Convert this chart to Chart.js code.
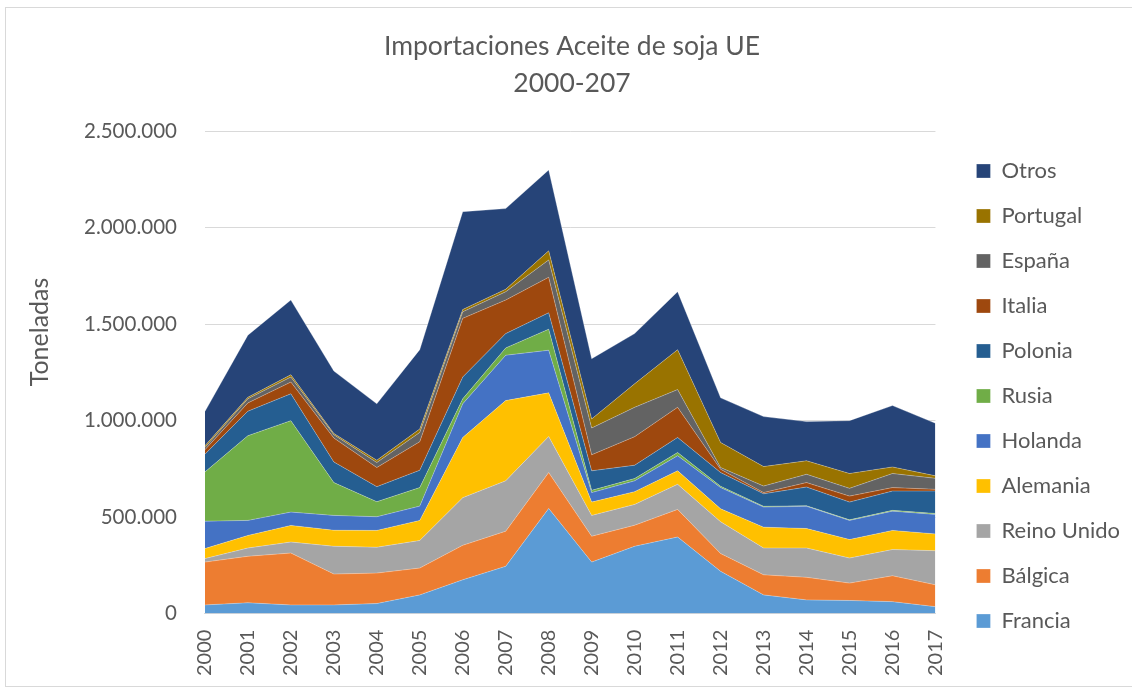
<!DOCTYPE html>
<html>
<head>
<meta charset="utf-8">
<script src="https://cdn.jsdelivr.net/npm/chart.js@4/dist/chart.umd.min.js"></script>
<style>
  html, body { margin: 0; padding: 0; background: #fff; }
  #wrap { position: relative; width: 1132px; height: 689px; }
  #frame { position: absolute; left: 5px; top: 7px; width: 1140px; height: 678px; border: 1px solid #d9d9d9; pointer-events: none; }
</style>
</head>
<body>
<div id="wrap">
  <canvas id="area_chart" width="1132" height="689"></canvas>
  <div id="frame"></div>
</div>
<script>
// years on the x axis
var years = ["2000", "2001", "2002", "2003", "2004", "2005", "2006", "2007", "2008",
             "2009", "2010", "2011", "2012", "2013", "2014", "2015", "2016", "2017"];

// imports per origin, tonnes
var francia    = [45000, 56000, 45000, 45000, 52000, 97000, 175000, 245000, 545000, 267000, 349000, 397000, 219000, 97000, 71000, 68000, 62000, 36000];
var belgica    = [222000, 241000, 269000, 160000, 158000, 139000, 179000, 182000, 186000, 134000, 109000, 143000, 92000, 104000, 117000, 90000, 134000, 113000];
var reinoUnido = [18000, 43000, 57000, 144000, 134000, 143000, 247000, 261000, 187000, 108000, 108000, 130000, 165000, 139000, 152000, 130000, 136000, 177000];
var alemania   = [52000, 65000, 86000, 83000, 87000, 104000, 312000, 416000, 226000, 69000, 66000, 70000, 67000, 108000, 101000, 96000, 99000, 87000];
var holanda    = [142000, 78000, 69000, 77000, 71000, 74000, 174000, 235000, 221000, 49000, 56000, 78000, 110000, 104000, 115000, 99000, 100000, 101000];
var rusia      = [255000, 439000, 474000, 170000, 78000, 96000, 26000, 38000, 109000, 12000, 12000, 17000, 7000, 4000, 3000, 3000, 4000, 5000];
var polonia    = [92000, 127000, 139000, 107000, 78000, 90000, 113000, 74000, 85000, 101000, 69000, 78000, 71000, 65000, 97000, 92000, 100000, 116000];
var italia     = [23000, 43000, 61000, 124000, 99000, 148000, 304000, 174000, 184000, 83000, 148000, 156000, 17000, 6000, 23000, 31000, 18000, 9000];
var espana     = [12000, 21000, 26000, 17000, 26000, 48000, 34000, 43000, 90000, 139000, 152000, 92000, 9000, 34000, 43000, 40000, 73000, 57000];
var portugal   = [9000, 8000, 12000, 7000, 12000, 18000, 12000, 13000, 47000, 47000, 122000, 207000, 130000, 101000, 70000, 77000, 34000, 13000];
var otros      = [177000, 322000, 387000, 323000, 292000, 411000, 507000, 418000, 419000, 312000, 260000, 300000, 231000, 259000, 203000, 274000, 318000, 272000];

var seriesNames  = ["Francia", "Bálgica", "Reino Unido", "Alemania", "Holanda", "Rusia", "Polonia", "Italia", "España", "Portugal", "Otros"];
var seriesValues = [francia, belgica, reinoUnido, alemania, holanda, rusia, polonia, italia, espana, portugal, otros];
var seriesColors = ['#5B9BD5', '#ED7D31', '#A5A5A5', '#FFC000', '#4472C4', '#70AD47',
                    '#255E91', '#9E480E', '#636363', '#997300', '#264478'];

var yTicks = [0, 500000, 1000000, 1500000, 2000000, 2500000];

var textColor = '#595959';
var fontFamily = 'Lato, "Open Sans", sans-serif';

function fmt(v) {
    return String(v).replace(/\B(?=(\d{3})+(?!\d))/g, '.');
}

var datasets = seriesValues.map(function(vals, i) {
    return {
        label: seriesNames[i],
        data: vals,
        backgroundColor: seriesColors[i],
        borderColor: 'rgba(255,255,255,0.35)',
        borderWidth: 0.8,
        pointRadius: 0,
        pointHoverRadius: 0,
        tension: 0,
        fill: i === 0 ? 'origin' : '-1'
    };
});

// y axis title drawn by hand so it sits where the original has it
var yTitlePlugin = {
    id: 'yTitle',
    afterDraw: function(chart) {
        var ctx = chart.ctx;
        ctx.save();
        ctx.translate(40, 332);
        ctx.rotate(-Math.PI / 2);
        ctx.font = '25px ' + fontFamily;
        ctx.fillStyle = textColor;
        ctx.textAlign = 'center';
        ctx.textBaseline = 'middle';
        ctx.fillText('Toneladas', 0, 0);
        ctx.restore();
    }
};

// nudge the legend and title blocks, the plot keeps its own size
var blockShift = {
    id: 'blockShift',
    afterLayout: function(chart) {
        var lg = chart.legend;
        if (lg) {
            lg.left += 18; lg.right += 18;
            lg.top += 54; lg.bottom += 54;
        }
        var tb = chart.titleBlock;
        if (tb) {
            tb.left -= 12; tb.right -= 12;
        }
    }
};

var ctx = document.getElementById('area_chart').getContext('2d');
var areaChart = new Chart(ctx, {
    type: 'line',
    data: {
        labels: years,
        datasets: datasets
    },
    plugins: [yTitlePlugin, blockShift],
    options: {
        responsive: false,
        animation: false,
        layout: { padding: { left: 56, right: 20, top: 0, bottom: 5 } },
        plugins: {
            title: {
                display: true,
                text: ['Importaciones Aceite de soja UE', '2000-207'],
                color: textColor,
                font: { family: fontFamily, size: 26.5, weight: 'normal', lineHeight: 1.4 },
                padding: { top: 28, bottom: 29 }
            },
            legend: {
                position: 'right',
                reverse: true,
                labels: {
                    color: textColor,
                    font: { family: fontFamily, size: 22 },
                    boxWidth: 14,
                    boxHeight: 14,
                    padding: 23
                }
            },
            tooltip: { enabled: false }
        },
        scales: {
            x: {
                offset: false,
                grid: { display: false },
                border: { display: true, color: '#d9d9d9' },
                ticks: {
                    color: textColor,
                    font: { family: fontFamily, size: 20 },
                    minRotation: 90,
                    maxRotation: 90,
                    padding: 8
                }
            },
            y: {
                stacked: true,
                min: 0,
                max: 2500000,
                afterBuildTicks: function(axis) {
                    axis.ticks = yTicks.map(function(v) { return { value: v }; });
                },
                grid: { color: '#d9d9d9', drawTicks: false },
                border: { display: false },
                ticks: {
                    color: textColor,
                    font: { family: fontFamily, size: 20.5 },
                    padding: 28,
                    callback: function(v) { return fmt(v); }
                }
            }
        }
    }
});
</script>
</body>
</html>
